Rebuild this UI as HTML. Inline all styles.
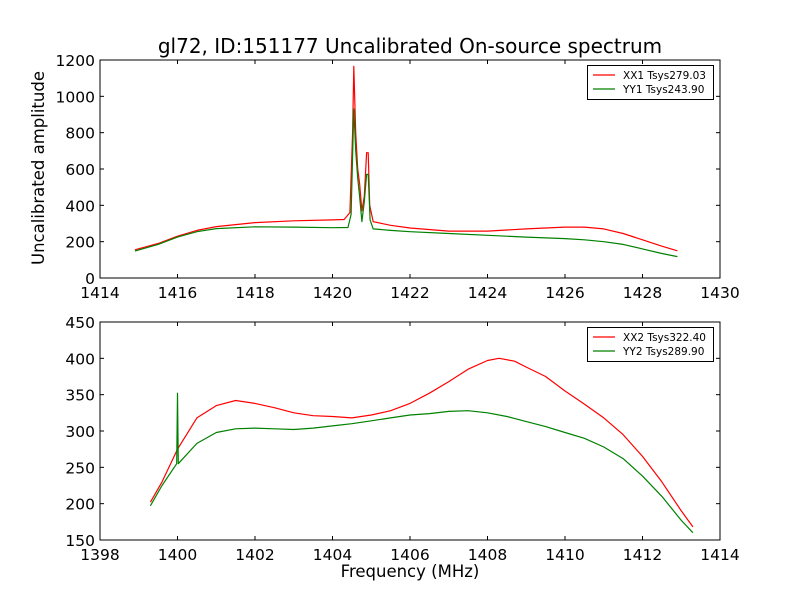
<!DOCTYPE html>
<html><head><meta charset="utf-8"><style>
body{margin:0;background:#fff}
svg{font-family:"DejaVu Sans","Liberation Sans",sans-serif}
</style></head><body>
<svg id="chart" width="800" height="600" xmlns="http://www.w3.org/2000/svg">
<rect width="800" height="600" fill="#fff"/>
<text x="410" y="53" font-size="20" text-anchor="middle">gl72, ID:151177 Uncalibrated On-source spectrum</text>
<text transform="translate(44,168) rotate(-90)" font-size="16.5" text-anchor="middle">Uncalibrated amplitude</text>
<text x="410" y="577" font-size="16.5" text-anchor="middle">Frequency (MHz)</text>
</svg>
<script>
const topFreqXX=[1414.9,1415.5,1416,1416.5,1417,1418,1419,1420,1420.3,1420.45,1420.52,1420.55,1420.6,1420.65,1420.7,1420.76,1420.82,1420.88,1420.92,1420.96,1421.05,1421.5,1422,1423,1424,1425,1426,1426.5,1427,1427.5,1428,1428.5,1428.9];
const topXX=[155,190,230,262,283,305,315,320,322,360,800,1165,800,600,520,370,450,690,690,400,310,290,275,258,258,270,280,280,270,245,210,175,150];
const topFreqYY=[1414.9,1415.5,1416,1416.5,1417,1418,1419,1420,1420.4,1420.48,1420.55,1420.6,1420.65,1420.7,1420.76,1420.82,1420.88,1420.92,1420.97,1421.05,1421.5,1422,1423,1424,1425,1426,1426.5,1427,1427.5,1428,1428.5,1428.9];
const topYY=[148,185,225,255,272,282,280,277,278,350,930,700,550,450,310,420,570,570,320,270,262,255,245,235,225,217,210,200,185,160,135,118];
const botFreqXX=[1399.3,1399.6,1400,1400.5,1401,1401.5,1402,1402.5,1403,1403.5,1404,1404.5,1405,1405.5,1406,1406.5,1407,1407.5,1408,1408.3,1408.7,1409,1409.5,1410,1410.5,1411,1411.5,1412,1412.5,1413,1413.3];
const botXX=[202,230,275,318,335,342,338,332,325,321,320,318,322,328,338,352,368,385,397,400,396,388,375,355,337,318,295,265,230,190,168];
const botFreqYY=[1399.3,1399.6,1399.98,1400,1400.02,1400.5,1401,1401.5,1402,1402.5,1403,1403.5,1404,1404.5,1405,1405.5,1406,1406.5,1407,1407.5,1408,1408.5,1409,1409.5,1410,1410.5,1411,1411.5,1412,1412.5,1413,1413.3];
const botYY=[197,225,255,352,255,283,298,303,304,303,302,304,307,310,314,318,322,324,327,328,325,320,313,306,298,290,278,262,238,210,177,160];
const topXTicks=[1414,1416,1418,1420,1422,1424,1426,1428,1430];
const topYTicks=[0,200,400,600,800,1000,1200];
const botXTicks=[1398,1400,1402,1404,1406,1408,1410,1412,1414];
const botYTicks=[150,200,250,300,350,400,450];
const topLegend=["XX1 Tsys279.03","YY1 Tsys243.90"];
const botLegend=["XX2 Tsys322.40","YY2 Tsys289.90"];

const NS="http://www.w3.org/2000/svg";
const svg=document.getElementById('chart');
function mk(tag,attrs,parent){const e=document.createElementNS(NS,tag);for(const k in attrs)e.setAttribute(k,attrs[k]);(parent||svg).appendChild(e);return e;}

function panel(name,box,xd,yd,xt,yt,series,legend){
  const sx=v=>box.x+(v-xd[0])/(xd[1]-xd[0])*box.w;
  const sy=v=>box.y+box.h-(v-yd[0])/(yd[1]-yd[0])*box.h;
  const g=mk('g',{});
  
  
  series.forEach((s,i)=>{
    const p=mk('polyline',{points:s.f.map((f,j)=>sx(f).toFixed(1)+','+sy(s.v[j]).toFixed(1)).join(' '),fill:'none',stroke:s.c,'stroke-width':1.2,'stroke-linejoin':'round'},g);
    
    
  });
  const fr=mk('rect',{x:box.x,y:box.y,width:box.w,height:box.h,fill:'none',stroke:'#000','stroke-width':1},g);
  
  
  xt.forEach(t=>{
    const x=sx(t);
    mk('line',{x1:x,x2:x,y1:box.y+box.h,y2:box.y+box.h-4,stroke:'#000'},g);
    mk('line',{x1:x,x2:x,y1:box.y,y2:box.y+4,stroke:'#000'},g);
    const tx=mk('text',{x:x,y:box.y+box.h+20,'font-size':15.5,'text-anchor':'middle'},g);
    tx.textContent=t;
    
    
  });
  yt.forEach(t=>{
    const y=sy(t);
    mk('line',{x1:box.x,x2:box.x+4,y1:y,y2:y,stroke:'#000'},g);
    mk('line',{x1:box.x+box.w,x2:box.x+box.w-4,y1:y,y2:y,stroke:'#000'},g);
    const tx=mk('text',{x:box.x-5,y:y+6,'font-size':15.5,'text-anchor':'end'},g);
    tx.textContent=t;
    
    
  });
  const lg=mk('g',{},g);
  
  
  mk('rect',{x:587.5,y:box.y+5.5,width:126,height:34,fill:'#fff',stroke:'#000'},lg);
  legend.forEach((l,i)=>{
    const y=box.y+15+i*14;
    mk('line',{x1:593,x2:615,y1:y,y2:y,stroke:series[i].c,'stroke-width':1.2},lg);
    const tx=mk('text',{x:623,y:y+4,'font-size':10.5},lg);
    tx.textContent=l;
    
    
  });
}
panel('top',{x:100,y:60,w:620,h:218},[1414,1430],[0,1200],topXTicks,topYTicks,
  [{f:topFreqXX,v:topXX,c:'#ff0000',n:'xx1'},{f:topFreqYY,v:topYY,c:'#008000',n:'yy1'}],topLegend);
panel('bottom',{x:100,y:322,w:620,h:218},[1398,1414],[150,450],botXTicks,botYTicks,
  [{f:botFreqXX,v:botXX,c:'#ff0000',n:'xx2'},{f:botFreqYY,v:botYY,c:'#008000',n:'yy2'}],botLegend);
</script>
</body></html>
